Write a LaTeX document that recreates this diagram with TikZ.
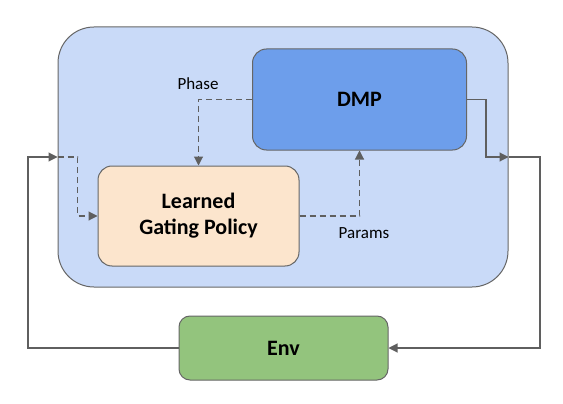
\documentclass[tikz,border=0pt]{standalone}
\usepackage{fontspec}
\setmainfont{Carlito}
\usetikzlibrary{arrows.meta}
\definecolor{outerfill}{HTML}{C9DAF8}
\definecolor{dmpfill}{HTML}{6D9EEB}
\definecolor{lgpfill}{HTML}{FCE5CD}
\definecolor{envfill}{HTML}{93C47D}
\definecolor{edge}{HTML}{666666}
\definecolor{wire}{HTML}{5F5F5F}
\tikzset{
  box/.style={draw=edge, line width=1pt, rounded corners=#1, inner sep=0pt, align=center,
    font=\fontsize{22}{26}\selectfont\bfseries},
  box/.default=14pt,
  wirestyle/.style={draw=wire, line width=1.1pt, -{Triangle[length=9pt,width=9pt]}},
  dashwire/.style={wirestyle, dash pattern=on 6pt off 4pt},
  lbl/.style={font=\fontsize{17}{20}\selectfont, inner sep=0pt},
}
\begin{document}
\begin{tikzpicture}[x=1pt,y=-1pt]
\useasboundingbox (0,0) rectangle (563,404);
\node[box=36pt, fill=outerfill, minimum width=450pt, minimum height=260pt] (outer) at (283,157) {};
\node[box, fill=dmpfill, minimum width=214pt, minimum height=101pt] (dmp) at (359.5,99.5) {DMP};
\node[box, fill=lgpfill, minimum width=201pt, minimum height=100pt] (lgp) at (198.5,216) {Learned\\Gating Policy};
\node[box=11pt, fill=envfill, minimum width=209pt, minimum height=64pt] (env) at (283.5,348) {Env};
\node[lbl] (phase) at (198,84) {Phase};
\node[lbl] (params) at (364,233) {Params};
\coordinate (rx) at (540,0);
\coordinate (lx) at (28,0);
\draw[dashwire] (dmp.west) -| (lgp.north);
\draw[dashwire] (lgp.east) -| (dmp.south);
\draw[wirestyle] (dmp.east) -- ++(19,0) |- (outer.east);
\draw[wirestyle] (outer.east) -- (outer.east -| rx) |- (env.east);
\draw[wirestyle] (env.west) -| (outer.west -| lx) -- (outer.west);
\draw[dashwire] (outer.west) -- ++(20,0) |- (lgp.west);
\end{tikzpicture}
\end{document}
